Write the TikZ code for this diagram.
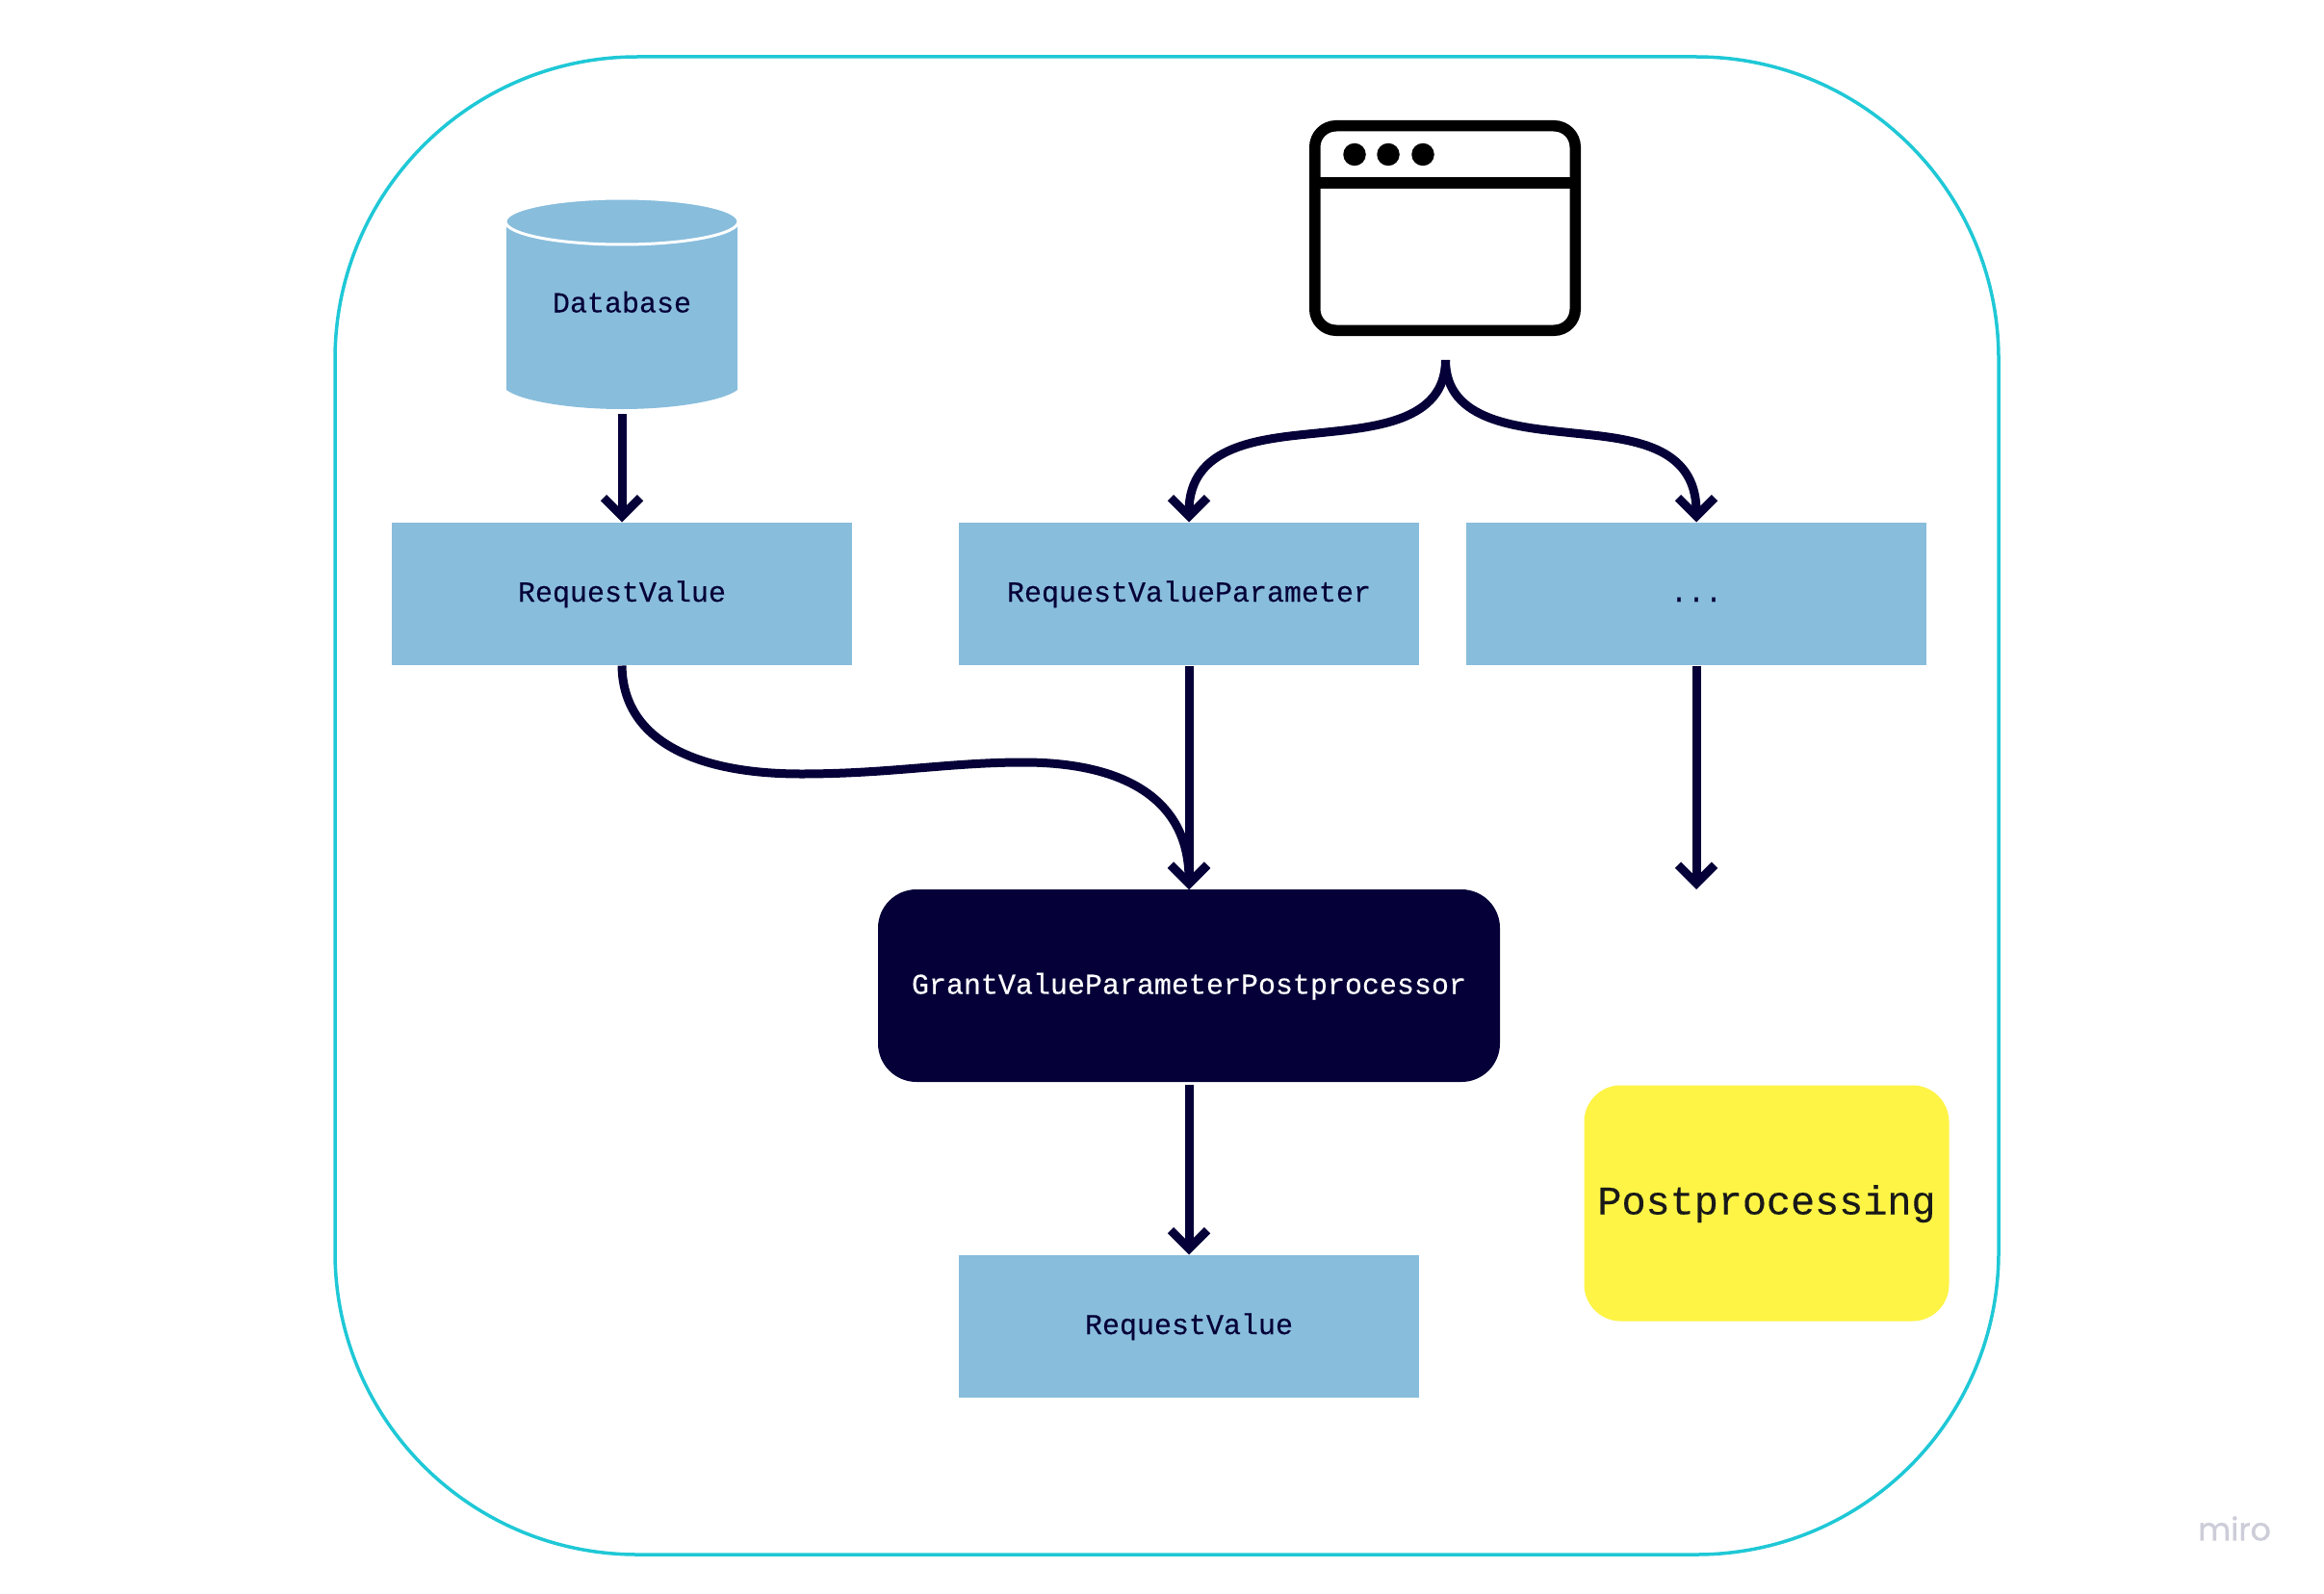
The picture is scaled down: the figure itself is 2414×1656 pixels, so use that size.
\documentclass[tikz,border=0pt]{standalone}
\usepackage{fontspec}
\setmonofont[FakeBold=0.25]{Liberation Mono}
\newfontfamily\logofont[FakeBold=1]{Poppins}
\usetikzlibrary{arrows.meta}
\definecolor{ink}{HTML}{050038}
\definecolor{boxblue}{HTML}{88BDDC}
\definecolor{frameteal}{HTML}{1FC8D6}
\definecolor{stickyyellow}{HTML}{FEF445}
\definecolor{logogrey}{HTML}{CDCDD9}
\tikzset{
  x=1pt,y=-1pt,
  label text/.style={font=\ttfamily\fontsize{30}{36}\selectfont,text=ink,text height=21pt,text depth=4pt,inner sep=0pt,outer sep=0pt},
  bluebox/.style={label text,fill=boxblue,minimum width=478pt,minimum height=148pt},
  darkbox/.style={label text,text=white,fill=ink,rounded corners=40pt,minimum width=646pt,minimum height=200pt},
  stickybox/.style={label text,font=\ttfamily\fontsize{41.8}{48}\selectfont,text=black!90,text height=26pt,text depth=3pt,fill=stickyyellow,rounded corners=38pt,minimum width=379pt,minimum height=245pt},
  conn/.style={draw=ink,line width=9pt,-{Straight Barb[length=19pt,width=38pt]}},
  windowline/.style={draw=black,line width=11.5pt},
  dot/.style={circle,fill=black,minimum size=23.5pt,inner sep=0pt}
}
\begin{document}
\begin{tikzpicture}
\useasboundingbox (0,0) rectangle (2414,1656);
\fill[white] (0,0) rectangle (2414,1656);
% frame
\draw[frameteal,line width=3.5pt,rounded corners=314pt] (348,59) rectangle (2076,1615);
% database
\fill[boxblue] (526,228) -- (526,405) .. controls (540,416) and (590,425) .. (646,425) .. controls (702,425) and (752,416) .. (766,405) -- (766,228) -- cycle;
\draw[white,line width=3pt,fill=boxblue] (646,230) ellipse [x radius=121,y radius=24];
\node[label text,minimum width=240pt,minimum height=218pt] (db) at (646,316) {Database};
% boxes
\node[bluebox] (rva) at (646,616.5) {RequestValue};
\node[bluebox] (rvp) at (1235,616.5) {RequestValueParameter};
\node[bluebox] (more) at (1762,616.5) {...};
\node[darkbox] (gv) at (1235,1024) {GrantValueParameterPostprocessor};
\node[bluebox] (rvb) at (1235,1377.5) {RequestValue};
\node[stickybox] (post) at (1835,1250) {Postprocessing};
% window icon
\node[windowline,rounded corners=22pt,minimum width=270.5pt,minimum height=212.5pt,inner sep=0pt,outer sep=0pt] (icon) at (1501,237) {};
\draw[windowline] (icon.west |- 0,190) -- (icon.east |- 0,190);
\node[dot] (d1) at (1407,160.5) {};
\node[dot] (d2) at (1442,160.5) {};
\node[dot] (d3) at (1478,160.5) {};
% connectors
\coordinate (iconout) at (1501.5,374);
\coordinate (morend) at (1762,924);
\draw[conn,shorten <=5pt] (db.south |- 0,425) -- (rva.north);
\draw[conn] (iconout) .. controls (1501.5,439) and (1425,444) .. (1368,450) .. controls (1309,456) and (1235,462) .. (rvp.north);
\draw[conn] (iconout) .. controls (1501.5,439) and (1579,444) .. (1635,450) .. controls (1694,456) and (1762,462) .. (more.north);
\draw[conn,shorten <=1pt] (rva.south) .. controls (647,770) and (724,804) .. (832,804) .. controls (924,804) and (986,792) .. (1063,792) .. controls (1170,792) and (1235,832) .. (gv.north);
\draw[conn,shorten <=1pt] (rvp.south) -- (gv.north);
\draw[conn,shorten <=1pt] (more.south) -- (morend);
\draw[conn,shorten <=3pt] (gv.south) -- (rvb.north);
% logo
\node[font=\logofont\fontsize{33}{38}\selectfont,text=logogrey,inner sep=0pt] (logo) at (2321,1588) {miro};
\end{tikzpicture}
\end{document}
